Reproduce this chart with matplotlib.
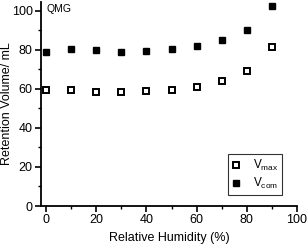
import matplotlib
matplotlib.use("Agg")
import matplotlib.pyplot as plt
from matplotlib.ticker import MultipleLocator

plt.rcParams['font.family'] = ['Liberation Sans', 'DejaVu Sans']

rh = [0, 10, 20, 30, 40, 50, 60, 70, 80, 90]
v_max = [59.6, 59.6, 58.6, 58.5, 58.8, 59.5, 60.8, 63.8, 69.4, 81.5]
v_com = [79.0, 80.6, 80.1, 79.1, 79.2, 80.4, 82.2, 85.0, 90.3, 102.4]

fig = plt.figure(figsize=(3.07, 2.45), dpi=100)
ax = fig.add_axes([41/307, 39/245, 256/307, 204/245])

ax.plot(rh, v_max, ls='none', marker='s', ms=4.3, mfc='white', mec='black', mew=1.4,
        label='V$_{\\mathregular{max}}$')
ax.plot(rh, v_com, ls='none', marker='s', ms=5, mfc='black', mec='black',
        label='V$_{\\mathregular{com}}$')

ax.set_xlim(-2, 100)
ax.set_ylim(0, 104.5)
ax.xaxis.set_major_locator(MultipleLocator(20))
ax.xaxis.set_minor_locator(MultipleLocator(10))
ax.yaxis.set_major_locator(MultipleLocator(20))
ax.yaxis.set_minor_locator(MultipleLocator(10))
ax.spines['top'].set_visible(False)
ax.spines['right'].set_visible(False)
ax.spines['left'].set_linewidth(1.3)
ax.spines['bottom'].set_linewidth(1.3)
ax.tick_params(which='major', direction='out', length=4, width=1.2, labelsize=9, pad=2)
ax.tick_params(which='minor', direction='out', length=2, width=1)

ax.set_xlabel('Relative Humidity (%)', fontsize=9, labelpad=4)
ax.set_ylabel('Retention Volume/ mL', fontsize=9)
ax.yaxis.set_label_coords(-0.108, 0.5)
ax.text(0.02, 0.99, 'QMG', transform=ax.transAxes, fontsize=7.5, va='top', ha='left')

leg = ax.legend(loc='lower right', bbox_to_anchor=(0.941, 0.054), fontsize=8.5, frameon=True,
                fancybox=False, edgecolor='black', handlelength=0.8, handletextpad=1.0,
                borderpad=0.3, labelspacing=0.3, borderaxespad=0)
leg.get_frame().set_linewidth(0.8)

fig.savefig('out.png', dpi=100)
